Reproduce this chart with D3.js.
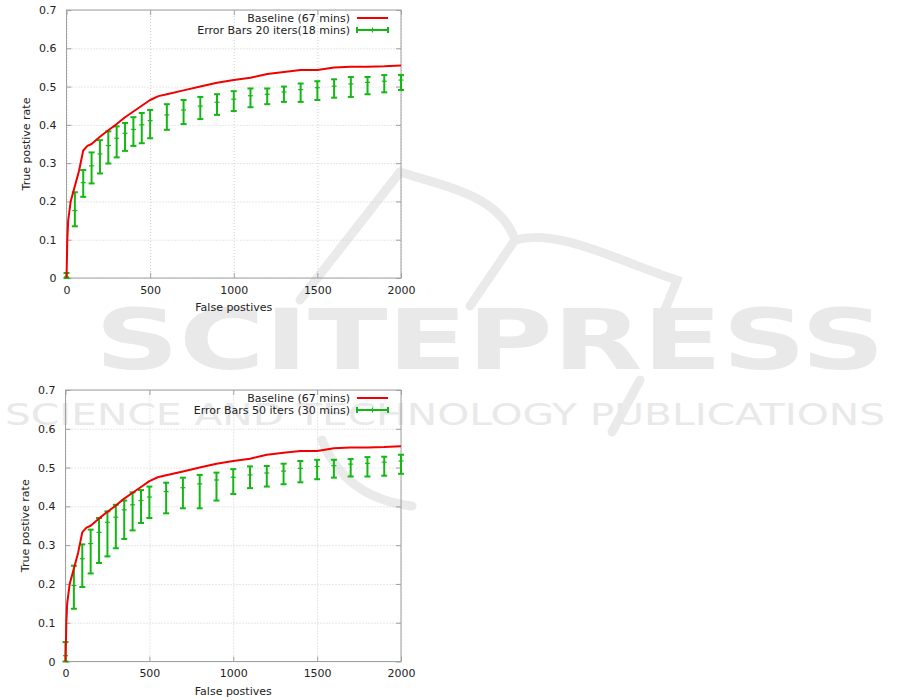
<!DOCTYPE html>
<html><head><meta charset="utf-8">
<script src="https://cdn.jsdelivr.net/npm/d3@7"></script>
<style>body{margin:0;background:#fff}svg{display:block}text{font-family:"DejaVu Sans",sans-serif}</style>
</head><body>
<svg id="c" width="901" height="700"></svg>
<script>
// ---- data ----
const baselineFP  = [0,5,10,25,50,75,100,125,150,200,250,300,350,400,450,500,550,600,700,800,900,1000,1100,1200,1300,1400,1500,1600,1700,1800,1900,2000];
const baselineTPR = [0,0.10,0.15,0.20,0.24,0.28,0.333,0.345,0.35,0.369,0.386,0.402,0.42,0.435,0.45,0.465,0.475,0.48,0.49,0.50,0.51,0.517,0.523,0.533,0.538,0.543,0.543,0.55,0.552,0.552,0.553,0.555];

const errFP = [0,50,100,150,200,250,300,350,400,450,500,600,700,800,900,1000,1100,1200,1300,1400,1500,1600,1700,1800,1900,2000];
const err20Mean = [0.003,0.176,0.249,0.293,0.324,0.346,0.365,0.378,0.388,0.400,0.411,0.426,0.439,0.449,0.459,0.467,0.476,0.480,0.486,0.492,0.497,0.501,0.507,0.511,0.514,0.517];
const err20Low  = [0,0.135,0.212,0.247,0.273,0.299,0.315,0.332,0.345,0.352,0.365,0.387,0.402,0.415,0.426,0.436,0.446,0.454,0.460,0.460,0.465,0.471,0.473,0.480,0.485,0.491];
const err20High = [0.013,0.224,0.282,0.328,0.360,0.383,0.396,0.405,0.420,0.431,0.439,0.454,0.465,0.473,0.480,0.488,0.495,0.495,0.500,0.508,0.514,0.519,0.525,0.525,0.530,0.530];

const err50Mean = [0.015,0.196,0.265,0.304,0.333,0.359,0.372,0.391,0.404,0.415,0.424,0.438,0.448,0.458,0.468,0.475,0.481,0.486,0.491,0.498,0.503,0.505,0.509,0.511,0.514,0.517];
const err50Low  = [0,0.136,0.192,0.227,0.254,0.271,0.292,0.316,0.338,0.357,0.370,0.382,0.395,0.395,0.415,0.432,0.447,0.451,0.457,0.462,0.470,0.474,0.477,0.477,0.479,0.484];
const err50High = [0.05,0.247,0.302,0.340,0.370,0.387,0.404,0.415,0.436,0.442,0.451,0.461,0.474,0.481,0.487,0.496,0.503,0.504,0.510,0.517,0.520,0.520,0.522,0.527,0.528,0.533];

const xTicks = [0,500,1000,1500,2000];
const yTicks = [0,0.1,0.2,0.3,0.4,0.5,0.6,0.7];
const legendBaseline = "Baseline (67 mins)";
const legendErr20 = "Error Bars 20 iters(18 mins)";
const legendErr50 = "Error Bars 50 iters (30 mins)";
const xTitle = "False postives";
const yTitle = "True postive rate";

// ---- drawing ----
const svg = d3.select("#c");
const RED = "#f20000", GREEN = "#14b814", GRID = "#cfcfcf", FRAME = "#a0a0a0", TXT = "#222";

// watermark (decorative)
const wm = svg.append("g").attr("fill","none").attr("stroke","#eaeaea").attr("stroke-width",9).attr("stroke-linecap","round");
wm.append("path").attr("d","M400,172 C450,188 500,196 515,240 C560,228 620,262 677,280 L664,312");
wm.append("path").attr("d","M400,172 L300,300");
wm.append("path").attr("d","M515,240 L470,306");
wm.append("path").attr("d","M322,440 Q345,498 412,506");
wm.append("path").attr("d","M640,380 L612,432");
svg.append("text").attr("x",95).attr("y",369).attr("textLength",790).attr("lengthAdjust","spacingAndGlyphs")
  .attr("font-size",84).attr("font-weight","bold").attr("fill","#e9e9e9").text("SCITEPRESS");
svg.append("text").attr("x",5).attr("y",425).attr("textLength",880).attr("lengthAdjust","spacingAndGlyphs")
  .attr("font-size",30).attr("fill","#e9e9e9").text("SCIENCE AND TECHNOLOGY PUBLICATIONS");

function panel(cfg){
  const x = d3.scaleLinear().domain([0,2000]).range([cfg.left,cfg.right]);
  const y = d3.scaleLinear().domain([0,0.7]).range([cfg.bottom,cfg.top]);
  const g = svg.append("g");
  // grid
  g.append("g").attr("transform",`translate(0,${cfg.bottom})`)
    .call(d3.axisBottom(x).tickValues(xTicks).tickSize(-(cfg.bottom-cfg.top)).tickFormat(""))
    .call(s=>{s.select(".domain").remove();s.selectAll("line").attr("stroke",GRID).attr("stroke-dasharray","1,2");});
  g.append("g").attr("transform",`translate(${cfg.left},0)`)
    .call(d3.axisLeft(y).tickValues(yTicks).tickSize(-(cfg.right-cfg.left)).tickFormat(""))
    .call(s=>{s.select(".domain").remove();s.selectAll("line").attr("stroke",GRID).attr("stroke-dasharray","1,2");});
  // frame
  g.append("rect").attr("x",cfg.left).attr("y",cfg.top).attr("width",cfg.right-cfg.left).attr("height",cfg.bottom-cfg.top)
    .attr("fill","none").attr("stroke",FRAME).attr("stroke-width",1);
  // axes with inward ticks and mirrored ticks
  const ax = g.append("g").attr("transform",`translate(0,${cfg.bottom})`)
    .call(d3.axisBottom(x).tickValues(xTicks).tickSizeInner(-5).tickSizeOuter(0).tickPadding(8).tickFormat(d3.format("d")));
  const ay = g.append("g").attr("transform",`translate(${cfg.left},0)`)
    .call(d3.axisLeft(y).tickValues(yTicks).tickSizeInner(-5).tickSizeOuter(0).tickPadding(10).tickFormat(d=>d===0?"0":d3.format(".1f")(d)));
  const ax2 = g.append("g").attr("transform",`translate(0,${cfg.top})`)
    .call(d3.axisTop(x).tickValues(xTicks).tickSizeInner(-5).tickSizeOuter(0).tickFormat(""));
  const ay2 = g.append("g").attr("transform",`translate(${cfg.right},0)`)
    .call(d3.axisRight(y).tickValues(yTicks).tickSizeInner(-5).tickSizeOuter(0).tickFormat(""));
  [ax,ay,ax2,ay2].forEach(a=>{a.select(".domain").remove();a.selectAll("line").attr("stroke",FRAME);
    a.selectAll("text").attr("font-size",11).attr("fill",TXT).attr("font-family","DejaVu Sans");});
  // titles
  g.append("text").attr("x",(cfg.left+cfg.right)/2).attr("y",cfg.bottom+33).attr("text-anchor","middle")
    .attr("font-size",11).attr("fill",TXT).text(xTitle);
  g.append("text").attr("transform",`translate(${cfg.ytx},${(cfg.top+cfg.bottom)/2}) rotate(-90)`).attr("text-anchor","middle")
    .attr("font-size",11).attr("fill",TXT).text(yTitle);
  // error bars
  const eb = g.append("g").attr("stroke",GREEN).attr("stroke-width",2).attr("fill","none");
  errFP.forEach((fp,i)=>{
    const cx = x(fp);
    eb.append("line").attr("x1",cx).attr("x2",cx).attr("y1",y(cfg.lo[i])).attr("y2",y(cfg.hi[i]));
    eb.append("line").attr("x1",cx-3).attr("x2",cx+3).attr("y1",y(cfg.lo[i])).attr("y2",y(cfg.lo[i]));
    eb.append("line").attr("x1",cx-3).attr("x2",cx+3).attr("y1",y(cfg.hi[i])).attr("y2",y(cfg.hi[i]));
    eb.append("line").attr("x1",cx-2.5).attr("x2",cx+2.5).attr("y1",y(cfg.mean[i])).attr("y2",y(cfg.mean[i])).attr("stroke-width",1.2);
  });
  // baseline
  g.append("path").datum(baselineFP.map((f,i)=>[f,baselineTPR[i]]))
    .attr("d",d3.line().x(d=>x(d[0])).y(d=>y(d[1])))
    .attr("fill","none").attr("stroke",RED).attr("stroke-width",2).attr("stroke-linejoin","round");
  // legend
  const L = g.append("g");
  const r1 = cfg.top+8, r2 = cfg.top+20;
  L.append("text").attr("x",350).attr("y",r1+4).attr("text-anchor","end").attr("font-size",11).attr("fill",TXT).text(legendBaseline);
  L.append("line").attr("x1",357).attr("x2",388).attr("y1",r1).attr("y2",r1).attr("stroke",RED).attr("stroke-width",2);
  L.append("text").attr("x",350).attr("y",r2+4).attr("text-anchor","end").attr("font-size",11).attr("fill",TXT).text(cfg.legend);
  const lg = L.append("g").attr("stroke",GREEN).attr("stroke-width",2);
  lg.append("line").attr("x1",357).attr("x2",388).attr("y1",r2).attr("y2",r2);
  lg.append("line").attr("x1",357).attr("x2",357).attr("y1",r2-3).attr("y2",r2+3);
  lg.append("line").attr("x1",388).attr("x2",388).attr("y1",r2-3).attr("y2",r2+3);
  lg.append("line").attr("x1",372.5).attr("x2",372.5).attr("y1",r2-2.5).attr("y2",r2+2.5).attr("stroke-width",1.2);
}

panel({left:66.5,right:401,top:10,bottom:278,ytx:30,mean:err20Mean,lo:err20Low,hi:err20High,legend:legendErr20});
panel({left:65.5,right:401,top:390,bottom:661.5,ytx:29,mean:err50Mean,lo:err50Low,hi:err50High,legend:legendErr50});
</script>
</body></html>
